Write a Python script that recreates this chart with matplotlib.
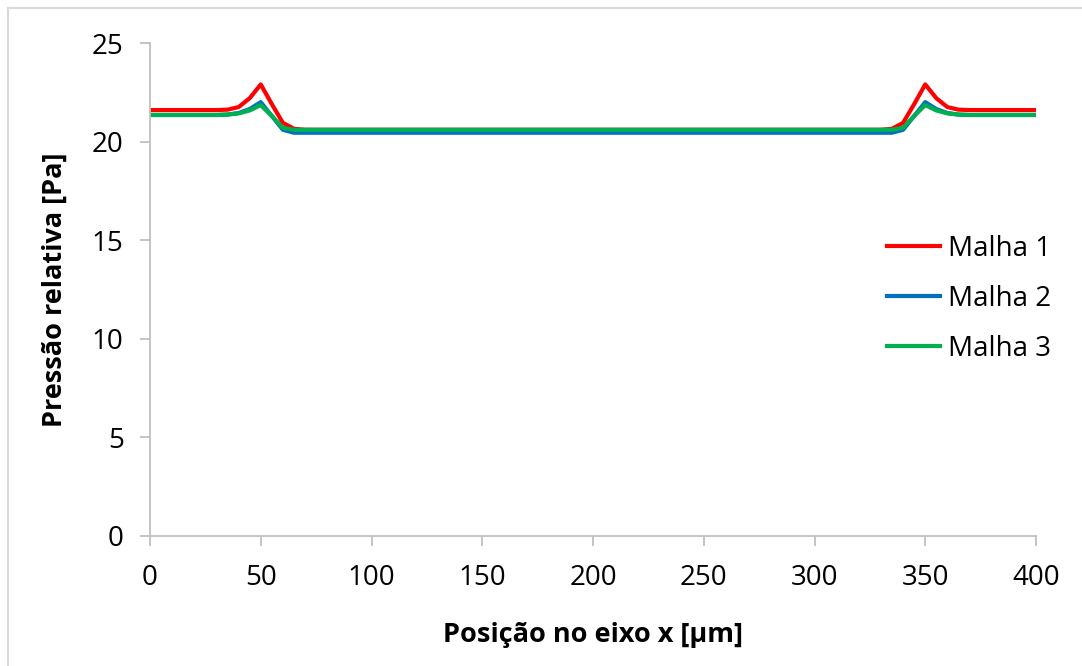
import matplotlib
matplotlib.use("Agg")
import matplotlib.pyplot as plt
from matplotlib.lines import Line2D

plt.rcParams['font.family'] = ['Open Sans', 'DejaVu Sans']

x = [0, 10, 20, 30, 35, 40, 45, 50, 55, 60, 65, 70, 100, 150, 200, 250, 300,
     330, 335, 340, 345, 350, 355, 360, 365, 370, 380, 390, 400]
malha1 = [21.6, 21.6, 21.6, 21.6, 21.62, 21.75, 22.2, 22.9, 21.9, 20.95, 20.65, 20.6,
          20.6, 20.6, 20.6, 20.6, 20.6,
          20.6, 20.65, 20.95, 21.9, 22.9, 22.2, 21.75, 21.62, 21.6, 21.6, 21.6, 21.6]
malha2 = [21.35, 21.35, 21.35, 21.35, 21.37, 21.45, 21.65, 22.0, 21.3, 20.6, 20.45, 20.45,
          20.45, 20.45, 20.45, 20.45, 20.45,
          20.45, 20.45, 20.6, 21.3, 22.0, 21.65, 21.45, 21.37, 21.35, 21.35, 21.35, 21.35]
malha3 = [21.35, 21.35, 21.35, 21.35, 21.37, 21.43, 21.58, 21.85, 21.3, 20.7, 20.6, 20.6,
          20.6, 20.6, 20.6, 20.6, 20.6,
          20.6, 20.6, 20.7, 21.3, 21.85, 21.58, 21.43, 21.37, 21.35, 21.35, 21.35, 21.35]
series = [("Malha 1", malha1, "#FF0000"), ("Malha 2", malha2, "#0070C0"), ("Malha 3", malha3, "#00B050")]

xticks = [0, 50, 100, 150, 200, 250, 300, 350, 400]
yticks = [0, 5, 10, 15, 20, 25]

fig = plt.figure(figsize=(10.82, 6.66), dpi=100)
ax = fig.add_axes([150/1082, 1-536/666, 886/1082, 493/666])

for name, vals, c in series:
    ax.plot(x, vals, color=c, lw=3.0, label=name, solid_joinstyle='round')

ax.set_xlim(0, 400)
ax.set_ylim(0, 25)
ax.set_xticks(xticks)
ax.set_yticks(yticks)
ax.tick_params(axis='both', labelsize=20, length=7, width=1.3, color='#BFBFBF', direction='out')
ax.tick_params(axis='y', pad=12)
ax.tick_params(axis='x', pad=13)
for s in ['top', 'right']:
    ax.spines[s].set_visible(False)
for s in ['left', 'bottom']:
    ax.spines[s].set_color('#BFBFBF')
    ax.spines[s].set_linewidth(1.3)

ax.set_xlabel("Posição no eixo x [µm]", fontsize=19.5, fontweight='bold', labelpad=22)
ax.set_ylabel("Pressão relativa [Pa]", fontsize=19.5, fontweight='bold', labelpad=17)

leg = ax.legend(loc='center left', bbox_to_anchor=(0.8035, 0.481), frameon=False, fontsize=20,
                handlelength=1.9, labelspacing=0.8, handletextpad=0.3)

fig.add_artist(Line2D([8/1082, 1], [1-8/666, 1-8/666], color='#D9D9D9', lw=1.5, transform=fig.transFigure))
fig.add_artist(Line2D([8/1082, 8/1082], [0, 1-8/666], color='#D9D9D9', lw=1.5, transform=fig.transFigure))

fig.savefig("out.png", dpi=100)
